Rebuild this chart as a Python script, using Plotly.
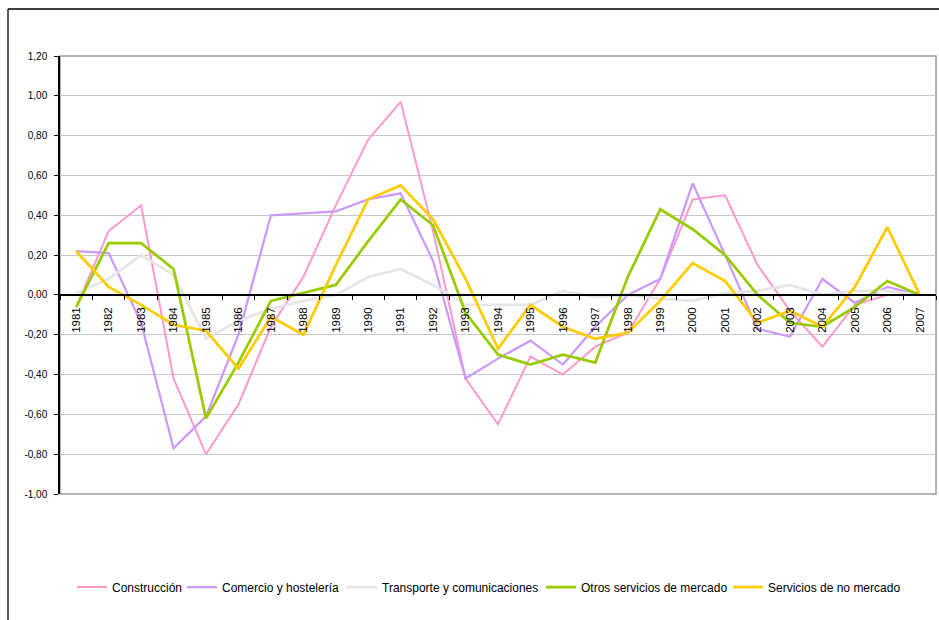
import plotly.graph_objects as go

# Years on the category axis
years = [str(y) for y in range(1981, 2008)]

# Series values
construccion = [-0.06, 0.32, 0.45, -0.42, -0.80, -0.55, -0.16, 0.09, 0.45, 0.78,
                0.97, 0.32, -0.42, -0.65, -0.31, -0.40, -0.26, -0.19, 0.08, 0.48,
                0.50, 0.15, -0.08, -0.26, -0.05, 0.00, 0.00]
comercio = [0.22, 0.21, -0.14, -0.77, -0.61, -0.20, 0.40, 0.41, 0.42, 0.48,
            0.51, 0.17, -0.42, -0.32, -0.23, -0.35, -0.16, 0.00, 0.08, 0.56,
            0.20, -0.17, -0.21, 0.08, -0.04, 0.04, 0.00]
transporte = [0.01, 0.08, 0.20, 0.10, -0.22, -0.13, -0.07, -0.03, 0.00, 0.09,
              0.13, 0.05, -0.05, -0.05, -0.05, 0.02, -0.01, 0.00, -0.02, -0.03,
              0.01, 0.02, 0.05, 0.00, 0.02, 0.02, 0.00]
otros_mercado = [-0.06, 0.26, 0.26, 0.13, -0.62, -0.34, -0.03, 0.01, 0.05, 0.27,
                 0.48, 0.35, -0.09, -0.30, -0.35, -0.30, -0.34, 0.09, 0.43, 0.33,
                 0.20, 0.00, -0.14, -0.16, -0.06, 0.07, 0.00]
no_mercado = [0.22, 0.04, -0.05, -0.15, -0.18, -0.37, -0.11, -0.20, 0.15, 0.48,
              0.55, 0.38, 0.08, -0.27, -0.05, -0.16, -0.22, -0.19, -0.03, 0.16,
              0.07, -0.14, -0.08, -0.16, 0.04, 0.34, 0.00]

series_names = ["Construcción", "Comercio y hostelería", "Transporte y comunicaciones",
                "Otros servicios de mercado", "Servicios de no mercado"]

# Y-axis ticks with comma decimals
y_ticks = [-1.0, -0.8, -0.6, -0.4, -0.2, 0.0, 0.2, 0.4, 0.6, 0.8, 1.0, 1.2]
y_ticktext = ["-1,00", "-0,80", "-0,60", "-0,40", "-0,20", "0,00",
              "0,20", "0,40", "0,60", "0,80", "1,00", "1,20"]

FONT = "Liberation Sans, Arial, sans-serif"
W, H = 939, 620
ML, MR, MT, MB = 60, 3, 56, 126
Y_MIN, Y_MAX = -1.0, 1.2

styles = [("#FF99CC", 2.0), ("#CC99FF", 2.25), ("#E6E6E6", 2.75),
          ("#99CC00", 2.75), ("#FFCC00", 2.75)]
legend_widths = [65, 115, 154, 142, 150]
all_series = [construccion, comercio, transporte, otros_mercado, no_mercado]

fig = go.Figure()
for name, vals, (color, width), lw in zip(series_names, all_series, styles, legend_widths):
    fig.add_trace(go.Scatter(x=years, y=vals, name=name, mode="lines",
                             line=dict(color=color, width=width),
                             legendwidth=lw))

plot_w = W - ML - MR
plot_h = H - MT - MB

def px_x(p):
    return (p - ML) / plot_w

def px_y(p):
    return (H - MB - p) / plot_h

shapes = [
    # plot-area frame
    dict(type="rect", xref="paper", yref="paper", x0=0, x1=1, y0=0, y1=1,
         line=dict(color="#9A9A9A", width=1.5), layer="below"),
    # chart-area border (top and left edges)
    dict(type="line", xref="paper", yref="paper", x0=px_x(8), x1=px_x(945),
         y0=px_y(9), y1=px_y(9), line=dict(color="black", width=1.3)),
    dict(type="line", xref="paper", yref="paper", x0=px_x(8), x1=px_x(8),
         y0=px_y(9), y1=px_y(630), line=dict(color="black", width=1.3)),
]

fig.update_layout(
    width=W, height=H,
    margin=dict(l=ML, r=MR, t=MT, b=MB, pad=0),
    paper_bgcolor="white", plot_bgcolor="white",
    font=dict(family=FONT, size=12, color="black"),
    showlegend=True,
    legend=dict(orientation="h", x=px_x(72), xanchor="left",
                y=px_y(587), yanchor="middle",
                font=dict(family=FONT, size=12, color="black"),
                bgcolor="rgba(0,0,0,0)", traceorder="normal"),
    shapes=shapes,
    xaxis=dict(type="category", range=[-0.5, len(years) - 0.5],
               anchor="free", position=(0 - Y_MIN) / (Y_MAX - Y_MIN),
               showline=True, linecolor="black", linewidth=1.5,
               ticks="outside", ticklen=4, tickcolor="black", tickwidth=1,
               tickson="boundaries", tickangle=-90, ticklabelstandoff=7,
               tickfont=dict(family=FONT, size=11.5, color="black"),
               showgrid=False, zeroline=False, fixedrange=True),
    yaxis=dict(range=[Y_MIN, Y_MAX], tickvals=y_ticks, ticktext=y_ticktext,
               showline=True, linecolor="black", linewidth=1.5,
               ticks="outside", ticklen=4, tickcolor="black", tickwidth=1,
               ticklabelstandoff=5,
               tickfont=dict(family=FONT, size=10, color="black"),
               showgrid=True, gridcolor="#C8C8C8", gridwidth=1,
               zeroline=False, fixedrange=True),
)

fig.write_html("out.html")
